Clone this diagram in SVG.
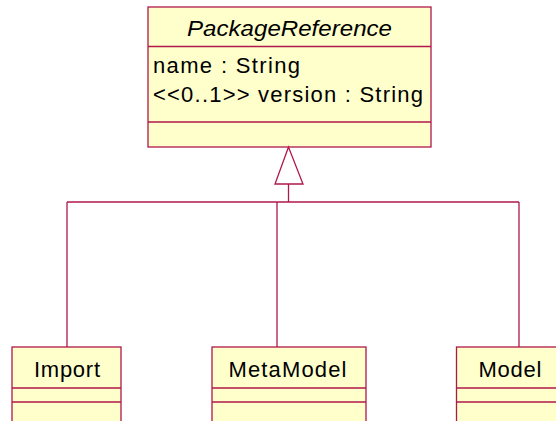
<svg xmlns="http://www.w3.org/2000/svg" width="556" height="421" viewBox="0 0 556 421">
<style>
.box{fill:#FFFFCC;stroke:#B0174A;stroke-width:1.3}
.ln{fill:none;stroke:#B0174A;stroke-width:1.3}
.t{font-family:"Liberation Sans",Arial,sans-serif;font-size:22px;fill:#000}
</style>
<rect width="556" height="421" fill="#fff"/>
<g id="PackageReference">
<rect class="box" x="148" y="7" width="283" height="140"/>
<line class="ln" x1="148" y1="46.5" x2="431" y2="46.5"/>
<line class="ln" x1="148" y1="122" x2="431" y2="122"/>
<text class="t" x="187" y="35.5" font-style="italic" font-size="21.5" textLength="205" lengthAdjust="spacingAndGlyphs">PackageReference</text>
<text class="t" x="153" y="73" textLength="147">name : String</text>
<text class="t" x="153" y="101.7" textLength="270">&lt;&lt;0..1&gt;&gt; version : String</text>
</g>
<g id="connectors">
<path class="ln" d="M288.5,147 L275,184 L303,184 Z" fill="#fff"/>
<line class="ln" x1="288.5" y1="184" x2="288.5" y2="202"/>
<line class="ln" x1="67" y1="202" x2="519" y2="202"/>
<line class="ln" x1="67" y1="202" x2="67" y2="347"/>
<line class="ln" x1="277" y1="202" x2="277" y2="347"/>
<line class="ln" x1="519" y1="202" x2="519" y2="347"/>
</g>
<g id="Import">
<rect class="box" x="12" y="347" width="109" height="80"/>
<line class="ln" x1="12" y1="388" x2="121" y2="388"/>
<line class="ln" x1="12" y1="402" x2="121" y2="402"/>
<text class="t" x="34" y="376.5" textLength="66">Import</text>
</g>
<g id="MetaModel">
<rect class="box" x="212" y="347" width="154" height="80"/>
<line class="ln" x1="212" y1="388" x2="366" y2="388"/>
<line class="ln" x1="212" y1="402" x2="366" y2="402"/>
<text class="t" x="228.5" y="376.5" textLength="118">MetaModel</text>
</g>
<g id="Model">
<rect class="box" x="456.5" y="347" width="120" height="80"/>
<line class="ln" x1="456.5" y1="388" x2="576" y2="388"/>
<line class="ln" x1="456.5" y1="402" x2="576" y2="402"/>
<text class="t" x="478.5" y="376.5" textLength="63">Model</text>
</g>
</svg>
